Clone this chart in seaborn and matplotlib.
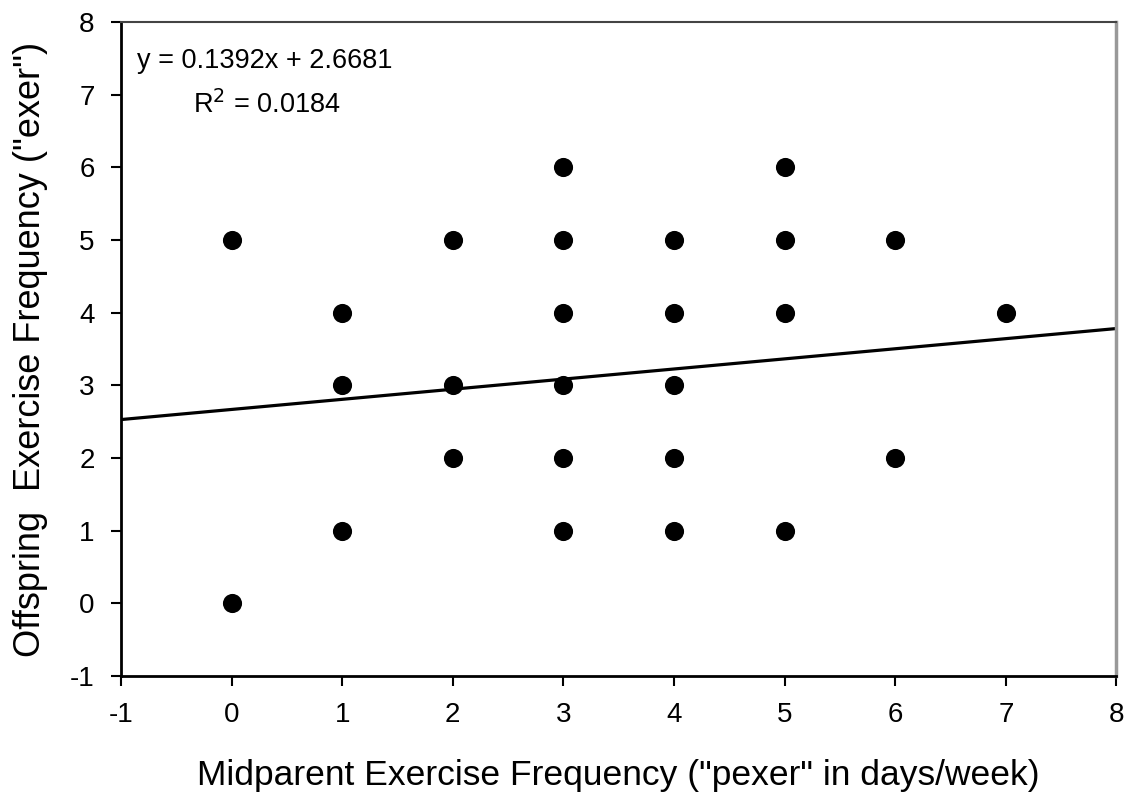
"""
Offspring vs midparent exercise frequency scatter with trend line
"""
import pandas as pd
import seaborn as sns
import matplotlib.pyplot as plt

PEXER = [0, 0, 1, 1, 1, 2, 2, 2, 3, 3, 3, 3, 3, 3, 4, 4, 4, 4, 4, 5, 5, 5, 5, 6, 6, 7]
EXER = [5, 0, 4, 3, 1, 5, 3, 2, 6, 5, 4, 3, 2, 1, 5, 4, 3, 2, 1, 6, 5, 4, 1, 5, 2, 4]
SLOPE = 0.1392
INTERCEPT = 2.6681
R2 = 0.0184
X_TICKS = list(range(-1, 9))
Y_TICKS = list(range(-1, 9))

sns.set_style("ticks", {'text.color': 'black', 'axes.labelcolor': 'black',
                        'xtick.color': 'black', 'ytick.color': 'black'})
plt.rcParams['font.family'] = ['Liberation Sans', 'DejaVu Sans']
plt.rcParams['axes.unicode_minus'] = False

points = pd.DataFrame({'pexer': PEXER, 'exer': EXER})
line_x = [X_TICKS[0], X_TICKS[-1]]
trend = pd.DataFrame({'x': line_x, 'y': [SLOPE * x + INTERCEPT for x in line_x]})

fig = plt.figure(figsize=(11.39, 8), dpi=100)
ax = fig.add_axes([0.1062, 0.155, 0.874, 0.8175])

sns.lineplot(data=trend, x='x', y='y', color='black', linewidth=2.3, ax=ax)
sns.scatterplot(data=points, x='pexer', y='exer', color='black', s=190,
                edgecolor='black', linewidth=0, ax=ax, zorder=3)

ax.set_xlim(-1, 8)
ax.set_ylim(-1, 8)
ax.set_xticks(X_TICKS)
ax.set_yticks(Y_TICKS)
ax.tick_params(labelsize=20, length=7, width=1.5, direction='out', pad=12)
for side in ['left', 'bottom']:
    ax.spines[side].set_linewidth(2)
    ax.spines[side].set_color('black')
ax.spines['top'].set_color('#444444')
ax.spines['top'].set_linewidth(1.5)
ax.spines['right'].set_color('#999999')
ax.spines['right'].set_linewidth(2.5)

ax.set_xlabel('Midparent Exercise Frequency ("pexer" in days/week)', fontsize=25.5, labelpad=22)
ax.set_ylabel('Offspring  Exercise Frequency ("exer")', fontsize=26, labelpad=16)

ax.text(0.016, 0.94, f"y = {SLOPE}x + {INTERCEPT}", transform=ax.transAxes,
        fontsize=19.5, va='center', ha='left')
ax.text(0.072, 0.873, f"R$^2$ = {R2}", transform=ax.transAxes,
        fontsize=19.5, va='center', ha='left')

fig.savefig("out.png")
